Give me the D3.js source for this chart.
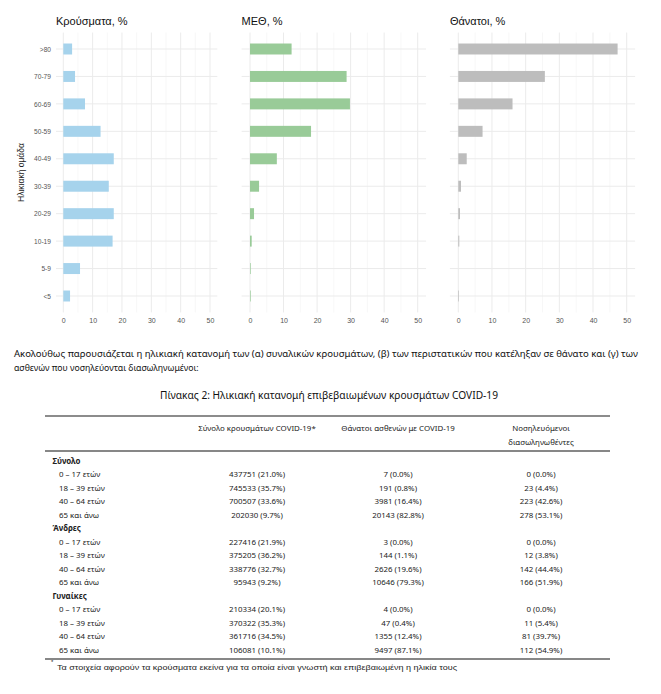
<!DOCTYPE html>
<html>
<head>
<meta charset="utf-8">
<script src="https://cdn.jsdelivr.net/npm/d3@7"></script>
<style>
  body { margin: 0; background: #fff; }
  svg { display: block; }
</style>
</head>
<body>
<svg id="page" width="661" height="694"></svg>
<script>
// age groups, bottom to top as in the chart
const ageGroups = ["<5", "5-9", "10-19", "20-29", "30-39", "40-49", "50-59", "60-69", "70-79", ">80"]

// percentages
const casesPct  = [2.3, 5.7, 16.8, 17.2, 15.5, 17.2, 12.7, 7.4, 4.0, 3.0]
const icuPct    = [0.2, 0.2, 0.5, 1.2, 2.7, 8.0, 18.2, 29.8, 28.8, 12.4]
const deathsPct = [0.2, 0.0, 0.3, 0.5, 0.8, 2.5, 7.2, 16.1, 25.7, 47.3]

const xTicks = [0, 10, 20, 30, 40, 50]
const xMinorTicks = [5, 15, 25, 35, 45]

// table
const tableGroups = ["Σύνολο", "Άνδρες", "Γυναίκες"]
const ageBands = ["0 – 17 ετών", "18 – 39 ετών", "40 – 64 ετών", "65 και άνω"]
const tableHeaders = [["Σύνολο κρουσμάτων COVID-19*"], ["Θάνατοι ασθενών με COVID-19"], ["Νοσηλευόμενοι", "διασωληνωθέντες"]]

const casesCount = [[437751, 745533, 700507, 202030], [227416, 375205, 338776, 95943], [210334, 370322, 361716, 106081]]
const casesShare = [[21.0, 35.7, 33.6, 9.7], [21.9, 36.2, 32.7, 9.2], [20.1, 35.3, 34.5, 10.1]]
const deathsCount = [[7, 191, 3981, 20143], [3, 144, 2626, 10646], [4, 47, 1355, 9497]]
const deathsShare = [[0.0, 0.8, 16.4, 82.8], [0.0, 1.1, 19.6, 79.3], [0.0, 0.4, 12.4, 87.1]]
const intubCount = [[0, 23, 223, 278], [0, 12, 142, 166], [0, 11, 81, 112]]
const intubShare = [[0.0, 4.4, 42.6, 53.1], [0.0, 3.8, 44.4, 51.9], [0.0, 5.4, 39.7, 54.9]]

const introLines = [
    "Ακολούθως παρουσιάζεται η ηλικιακή κατανομή των (α) συναλικών κρουσμάτων, (β) των περιστατικών που κατέληξαν σε θάνατο και (γ) των",
    "ασθενών που νοσηλεύονται διασωληνωμένοι:"
]
const tableTitle = "Πίνακας 2: Ηλικιακή κατανομή επιβεβαιωμένων κρουσμάτων COVID-19"
const footnote = "Τα στοιχεία αφορούν τα κρούσματα εκείνα για τα οποία είναι γνωστή και επιβεβαιωμένη η ηλικία τους"

const chartFont = "'Liberation Sans', Arial, sans-serif"
const textFont = "'Noto Sans', 'Open Sans', sans-serif"
const tableSize = 7.9

const svg = d3.select('#page')

// ---------- bar panels ----------
const panels = [
    { title: "Κρούσματα, %", values: casesPct,  color: "#a6d3ec", x0: 63.3,  x1: 210.0 },
    { title: "ΜΕΘ, %",       values: icuPct,    color: "#99cb98", x0: 250.0, x1: 417.7 },
    { title: "Θάνατοι, %",   values: deathsPct, color: "#bdbdbd", x0: 458.3, x1: 626.7 }
]

const y = d3.scalePoint()
    .domain(ageGroups.slice().reverse())
    .range([49, 296])
const step = y.step()
const barH = step * 0.4
const yTop = 49 - step * 0.6
const yBot = 296 + step * 0.6

panels.forEach((p, i) => {
    const x = d3.scaleLinear().domain([0, 50]).range([p.x0, p.x1])
    const pad = (x(50) - x(0)) * 0.05
    const left = x(0) - pad
    const right = x(50) + pad
    const g = svg.append('g')

    // minor then major vertical grid
    g.selectAll('line.minor').data(xMinorTicks).join('line')
        .attr('x1', d => x(d)).attr('x2', d => x(d))
        .attr('y1', yTop).attr('y2', yBot)
        .attr('stroke', '#f2f2f2').attr('stroke-width', 0.6)
    g.selectAll('line.major').data(xTicks).join('line')
        .attr('x1', d => x(d)).attr('x2', d => x(d))
        .attr('y1', yTop).attr('y2', yBot)
        .attr('stroke', '#ebebeb').attr('stroke-width', 1)
    g.selectAll('line.hgrid').data(ageGroups).join('line')
        .attr('x1', left).attr('x2', right)
        .attr('y1', d => y(d)).attr('y2', d => y(d))
        .attr('stroke', '#ebebeb').attr('stroke-width', 1)

    g.selectAll('rect').data(ageGroups).join('rect')
        .attr('x', x(0))
        .attr('y', d => y(d) - barH / 2)
        .attr('width', (d, j) => x(p.values[j]) - x(0))
        .attr('height', barH)
        .attr('fill', p.color)

    // x axis labels only (theme_minimal style)
    const ax = g.append('g')
        .attr('transform', `translate(0,${yBot})`)
        .call(d3.axisBottom(x).tickValues(xTicks).tickSize(0).tickPadding(6))
    ax.select('.domain').remove()
    ax.selectAll('text').attr('font-family', chartFont).attr('font-size', 7).attr('fill', '#555')

    if (i === 0) {
        const ay = g.append('g')
            .attr('transform', `translate(${left},0)`)
            .call(d3.axisLeft(y).tickSize(0).tickPadding(5))
        ay.select('.domain').remove()
        ay.selectAll('text').attr('font-family', chartFont).attr('font-size', 6.6).attr('fill', '#555')

        svg.append('text')
            .attr('transform', `translate(24,${(yTop + yBot) / 2}) rotate(-90)`)
            .attr('text-anchor', 'middle')
            .attr('font-family', chartFont).attr('font-size', 8.5).attr('fill', '#222')
            .text("Ηλικιακή ομάδα")
    }

    svg.append('text')
        .attr('x', left).attr('y', 25)
        .attr('font-family', chartFont).attr('font-size', 11).attr('fill', '#111')
        .text(p.title)
})

// ---------- intro text ----------
svg.selectAll('text.intro').data(introLines).join('text')
    .attr('class', 'intro')
    .attr('x', 14).attr('y', (d, i) => 357 + i * 14)
    .attr('font-family', textFont).attr('font-size', 8.7).attr('fill', '#111')
    .text(d => d)
svg.select('text.intro').attr('textLength', 624).attr('lengthAdjust', 'spacingAndGlyphs')

svg.append('text')
    .attr('x', 329).attr('y', 398.5)
    .attr('text-anchor', 'middle')
    .attr('font-family', textFont).attr('font-size', 10.3).attr('fill', '#111')
    .attr('textLength', 338).attr('lengthAdjust', 'spacingAndGlyphs')
    .text(tableTitle)

// ---------- table ----------
const tLeft = 45, tRight = 610
const colX = [257, 398, 541]

svg.append('line').attr('x1', tLeft).attr('x2', tRight).attr('y1', 416).attr('y2', 416)
    .attr('stroke', '#666').attr('stroke-width', 1.6)
svg.append('line').attr('x1', tLeft).attr('x2', tRight).attr('y1', 451).attr('y2', 451)
    .attr('stroke', '#111').attr('stroke-width', 1.2)
svg.append('line').attr('x1', tLeft).attr('x2', tRight).attr('y1', 659).attr('y2', 659)
    .attr('stroke', '#111').attr('stroke-width', 1.2)

tableHeaders.forEach((lines, c) => {
    lines.forEach((ln, k) => {
        svg.append('text')
            .attr('x', colX[c]).attr('y', 431 + k * 13.5)
            .attr('text-anchor', 'middle')
            .attr('font-family', textFont).attr('font-size', tableSize).attr('fill', '#222')
            .text(ln)
    })
})

// rows: one group header followed by its age bands
const rows = []
tableGroups.forEach((grp, gi) => {
    rows.push({ label: grp, bold: true })
    ageBands.forEach((band, bi) => {
        rows.push({
            label: band, bold: false,
            cells: [
                `${casesCount[gi][bi]} (${casesShare[gi][bi].toFixed(1)}%)`,
                `${deathsCount[gi][bi]} (${deathsShare[gi][bi].toFixed(1)}%)`,
                `${intubCount[gi][bi]} (${intubShare[gi][bi].toFixed(1)}%)`
            ]
        })
    })
})

const rowY = d3.scalePoint().domain(d3.range(rows.length)).range([461, 650])

rows.forEach((r, i) => {
    const ty = rowY(i) + 2.8
    svg.append('text')
        .attr('x', r.bold ? 52.5 : 59).attr('y', ty)
        .attr('font-family', textFont).attr('font-size', tableSize)
        .attr('font-weight', r.bold ? 700 : 400).attr('fill', '#222')
        .text(r.label)
    if (r.cells) {
        r.cells.forEach((c, ci) => {
            svg.append('text')
                .attr('x', colX[ci]).attr('y', ty)
                .attr('text-anchor', 'middle')
                .attr('font-family', textFont).attr('font-size', tableSize).attr('fill', '#222')
                .text(c)
        })
    }
})

// footnote
svg.append('text')
    .attr('x', 51).attr('y', 664)
    .attr('font-family', chartFont).attr('font-size', 6).attr('fill', '#222')
    .text("*")
svg.append('text')
    .attr('x', 57).attr('y', 669.5)
    .attr('font-family', chartFont).attr('font-size', 8).attr('fill', '#222')
    .attr('textLength', 400).attr('lengthAdjust', 'spacingAndGlyphs')
    .text(footnote)
</script>
</body>
</html>
